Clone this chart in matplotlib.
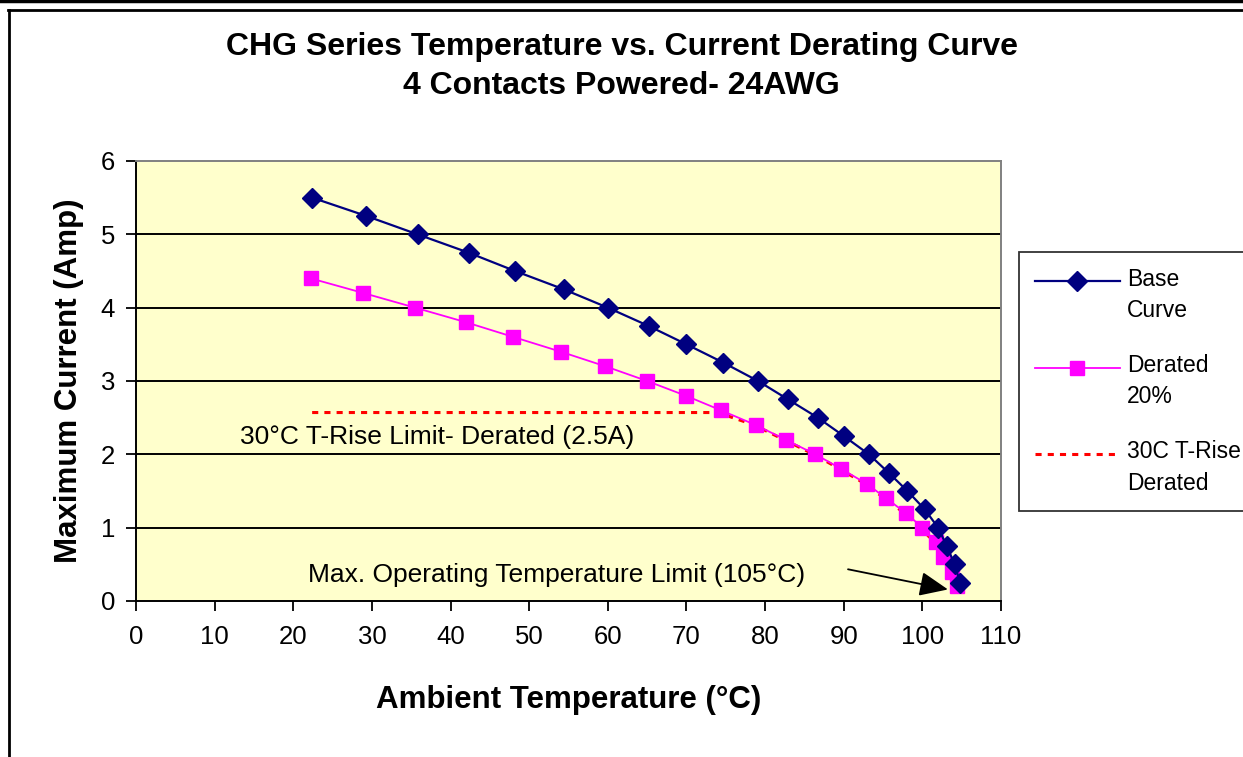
import matplotlib
matplotlib.use("Agg")
import matplotlib.pyplot as plt
import numpy as np
from matplotlib.lines import Line2D
from matplotlib.legend_handler import HandlerLine2D

plt.rcParams['font.family'] = ['Liberation Sans', 'DejaVu Sans']

# data
base_temp = [22.4, 29.3, 35.8, 42.3, 48.2, 54.4, 60.0, 65.2, 70.0, 74.7, 79.1,
             82.9, 86.7, 90.0, 93.2, 95.7, 98.1, 100.3, 102.0, 103.1, 104.1, 104.8]
base_amp = [5.5, 5.25, 5.0, 4.75, 4.5, 4.25, 4.0, 3.75, 3.5, 3.25, 3.0,
            2.75, 2.5, 2.25, 2.0, 1.75, 1.5, 1.25, 1.0, 0.75, 0.5, 0.25]

der_temp = [22.2, 28.9, 35.5, 42.0, 48.0, 54.0, 59.7, 65.0, 69.9, 74.4, 78.8,
            82.6, 86.4, 89.7, 92.9, 95.4, 97.9, 100.0, 101.7, 102.6, 103.8, 104.4]
der_amp = [4.4, 4.2, 4.0, 3.8, 3.6, 3.4, 3.2, 3.0, 2.8, 2.6, 2.4,
           2.2, 2.0, 1.8, 1.6, 1.4, 1.2, 1.0, 0.8, 0.6, 0.4, 0.2]

rise_temp = [22.4, 74.0, 78.6, 82.4, 86.2, 89.5, 92.7, 95.2, 97.7, 99.8, 101.5, 102.4, 103.6, 104.2]
rise_amp = [2.57, 2.57, 2.4, 2.2, 2.0, 1.8, 1.6, 1.4, 1.2, 1.0, 0.8, 0.6, 0.4, 0.2]

xticks = list(range(0, 111, 10))
yticks = list(range(0, 7))


class FirstLineHandler(HandlerLine2D):
    # put the legend symbol level with the first text line, like Excel does
    def create_artists(self, legend, orig_handle, xdescent, ydescent, width, height, fontsize, trans):
        arts = super().create_artists(legend, orig_handle, xdescent, ydescent,
                                      width, height, fontsize, trans)
        for a in arts:
            a.set_ydata(np.asarray(a.get_ydata()) + 10.5)
        return arts


fig = plt.figure(figsize=(12.43, 7.57), dpi=100)
ax = fig.add_axes([136/1243, 1 - 601/757, 865/1243, 440/757])
ax.set_facecolor('#FFFFCC')

for y in yticks[1:-1]:
    ax.axhline(y, color='black', lw=1.4, zorder=1)

ax.plot(rise_temp, rise_amp, color='#FF0000', lw=2.2, ls=(0, (2, 2)), zorder=2,
        label='30C T-Rise\nDerated')
ax.plot(base_temp, base_amp, color='#000080', lw=1.6, marker='D', ms=10,
        mfc='#000080', mec='#000080', zorder=4, label='Base\nCurve')
ax.plot(der_temp, der_amp, color='#FF00FF', lw=1.3, marker='s', ms=9.5,
        mfc='#FF00FF', mec='#FF00FF', zorder=3, label='Derated\n20%')

ax.set_xlim(0, 110)
ax.set_ylim(0, 6)
ax.set_xticks(xticks)
ax.set_yticks(yticks)
ax.tick_params(axis='both', direction='out', length=7, width=1.3, labelsize=18.5, colors='black')
ax.tick_params(axis='x', pad=10)
ax.tick_params(axis='y', pad=8)
for s in ['top', 'right']:
    ax.spines[s].set_color('#808080')
    ax.spines[s].set_linewidth(1.4)
for s in ['left', 'bottom']:
    ax.spines[s].set_color('black')
    ax.spines[s].set_linewidth(1.4)

ax.set_xlabel('Ambient Temperature (°C)', fontsize=22.5, fontweight='bold', labelpad=26)
ax.set_ylabel('Maximum Current (Amp)', fontsize=22.5, fontweight='bold', labelpad=12)

ax.text(13.2, 2.23, '30°C T-Rise Limit- Derated (2.5A)', fontsize=19, va='center', ha='left')
ax.text(21.9, 0.36, 'Max. Operating Temperature Limit (105°C)', fontsize=19, va='center', ha='left')
ax.annotate('', xy=(103.6, 0.15), xytext=(90.2, 0.44),
            arrowprops=dict(arrowstyle='-|>,head_length=0.7,head_width=0.3', color='black',
                            lw=1.3, mutation_scale=25))

fig.text(0.5, 1 - 47/757, 'CHG Series Temperature vs. Current Derating Curve',
         ha='center', va='center', fontsize=23, fontweight='bold')
fig.text(0.5, 1 - 86/757, '4 Contacts Powered- 24AWG',
         ha='center', va='center', fontsize=23, fontweight='bold')

handles, labels = ax.get_legend_handles_labels()
order = [1, 2, 0]
leg = fig.legend([handles[i] for i in order], [labels[i] for i in order],
                 loc='upper left', bbox_to_anchor=(1019/1243, 1 - 252/757),
                 fontsize=16.5, frameon=True, fancybox=False, edgecolor='black',
                 handlelength=3.7, labelspacing=1.4, borderpad=0.7, handletextpad=0.3,
                 borderaxespad=0, handler_map={Line2D: FirstLineHandler()})
for t in leg.get_texts():
    t.set_linespacing(1.45)
leg.get_frame().set_linewidth(1.3)

# outer chart frame
fig.add_artist(Line2D([0, 1], [1 - 1/757, 1 - 1/757], color='black', lw=2.5))
fig.add_artist(Line2D([8/1243, 1], [1 - 10/757, 1 - 10/757], color='black', lw=2.0))
fig.add_artist(Line2D([8.5/1243, 8.5/1243], [0, 1 - 10/757], color='black', lw=2.0))

fig.savefig('out.png', dpi=100)
